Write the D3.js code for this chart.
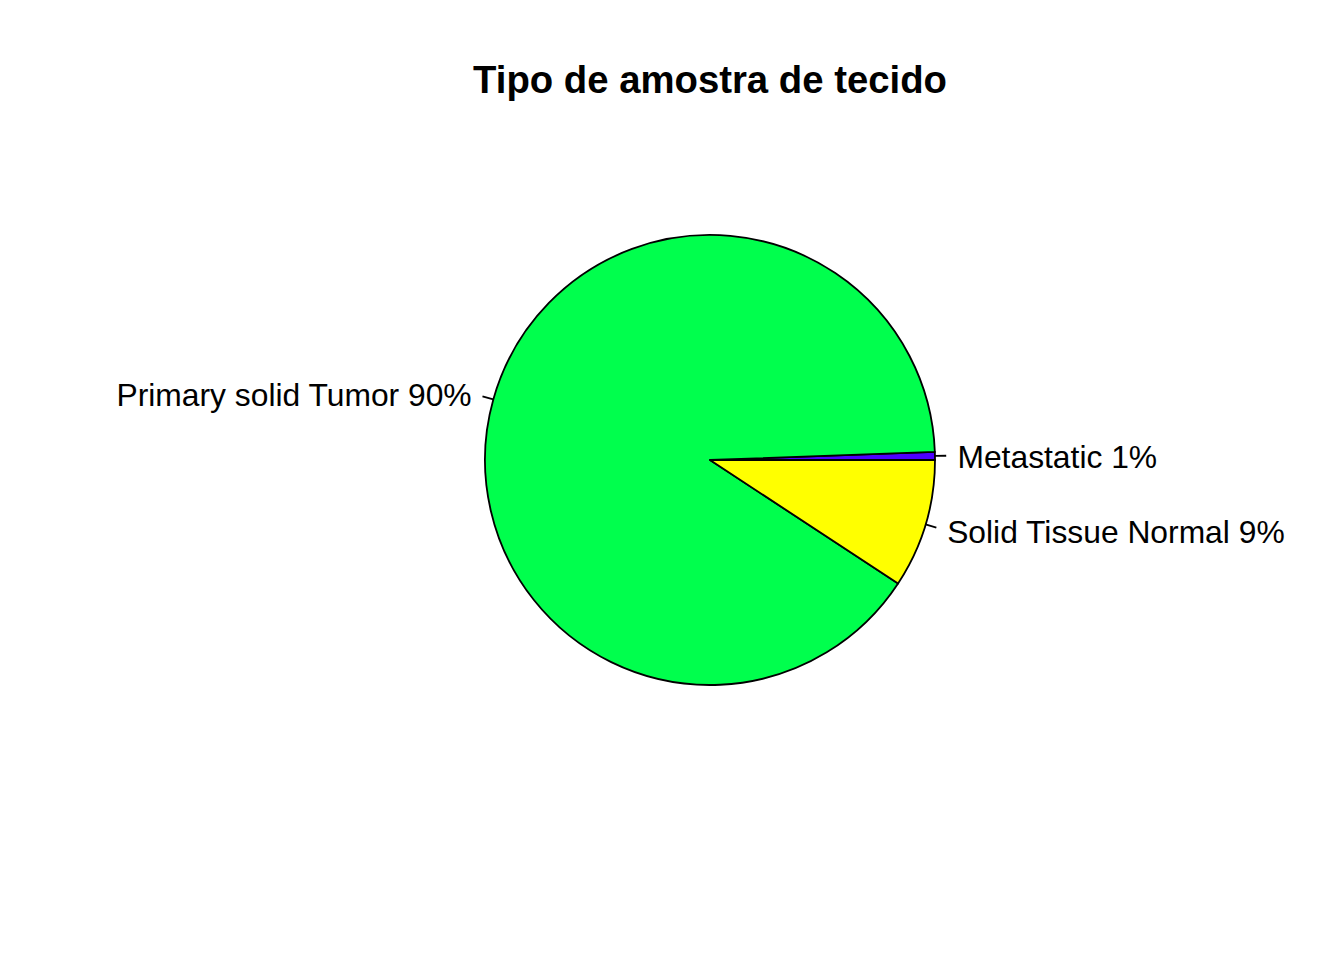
<!DOCTYPE html>
<html>
<head>
<meta charset="utf-8">
<script src="https://cdn.jsdelivr.net/npm/d3@7"></script>
<style>
  html, body { margin: 0; padding: 0; background: #ffffff; }
  svg { display: block; }
</style>
</head>
<body>
<script>
// Data
const categories = ["Metastatic", "Primary solid Tumor", "Solid Tissue Normal"];
const counts = [7, 1102, 113];
const colors = ["#4C00FF", "#00FF4D", "#FFFF00"];
const title = "Tipo de amostra de tecido";

const W = 1344, H = 960;
const cx = 710, cy = 460, R = 225;
const fontFamily = "Arial, 'Liberation Sans', Helvetica, sans-serif";
const labelSize = 31.8;

const svg = d3.select("body").append("svg")
  .attr("width", W).attr("height", H);

svg.append("rect").attr("width", W).attr("height", H).attr("fill", "#fff");

svg.append("text")
  .attr("x", cx).attr("y", 93)
  .attr("text-anchor", "middle")
  .attr("font-family", fontFamily)
  .attr("font-weight", "bold")
  .attr("font-size", 38.3)
  .attr("fill", "#000")
  .text(title);

const total = d3.sum(counts);
const data = categories.map((c, i) => ({ name: c, value: counts[i], color: colors[i] }));

// R's pie: start at 3 o'clock, counter-clockwise
const pie = d3.pie().sort(null).value(d => d.value)
  .startAngle(Math.PI / 2).endAngle(Math.PI / 2 - 2 * Math.PI);
const arcs = pie(data);

const arc = d3.arc().innerRadius(0).outerRadius(R);
const g = svg.append("g").attr("transform", `translate(${cx},${cy})`);

g.selectAll("path.slice").data(arcs).enter().append("path")
  .attr("class", "slice")
  .attr("d", arc)
  .attr("fill", d => d.data.color)
  .attr("stroke", "#000")
  .attr("stroke-width", 1.8)
  .attr("stroke-linejoin", "round");

arcs.forEach(a => {
  const m = (a.startAngle + a.endAngle) / 2;
  const sx = Math.sin(m), sy = -Math.cos(m);
  g.append("line")
    .attr("x1", sx * R).attr("y1", sy * R)
    .attr("x2", sx * R * 1.05).attr("y2", sy * R * 1.05)
    .attr("stroke", "#000").attr("stroke-width", 1.8);
  const pct = Math.round(a.data.value / total * 100) + "%";
  g.append("text")
    .attr("x", sx * R * 1.1)
    .attr("y", sy * R * 1.1 + 0.716 * labelSize / 2 + 1)
    .attr("text-anchor", sx > 0 ? "start" : "end")
    .attr("font-family", fontFamily)
    .attr("font-size", labelSize)
    .attr("fill", "#000")
    .text(a.data.name + " " + pct);
});
</script>
</body>
</html>
